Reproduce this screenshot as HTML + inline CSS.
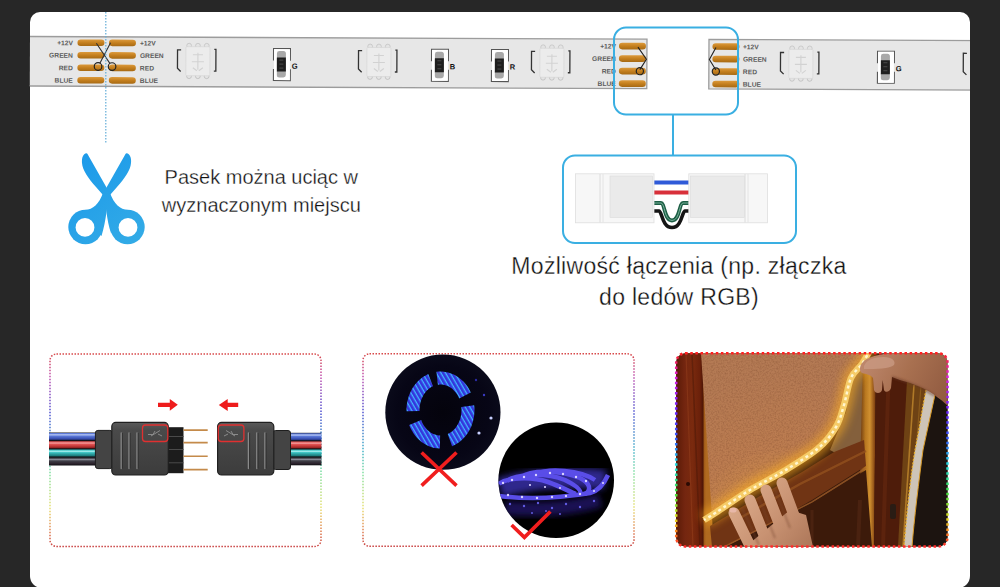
<!DOCTYPE html>
<html><head><meta charset="utf-8">
<style>
html,body{margin:0;padding:0;}
body{width:1000px;height:587px;overflow:hidden;background:#272727;position:relative;font-family:"Liberation Sans",sans-serif;}
#card{position:absolute;left:30px;top:12px;width:940px;height:576px;background:#fff;border-radius:10px 10px 12px 12px;}
svg{position:absolute;left:0;top:0;}
.t{position:absolute;color:#222;-webkit-text-stroke:0.3px #fff;font-family:"Liberation Sans",sans-serif;white-space:nowrap;}
</style></head>
<body>
<div id="card"></div>
<svg width="1000" height="587" viewBox="0 0 1000 587">
<defs>
  <linearGradient id="pad" x1="0" y1="0" x2="0" y2="1">
    <stop offset="0" stop-color="#dc9a3c"/>
    <stop offset="0.5" stop-color="#c47f1e"/>
    <stop offset="1" stop-color="#a76a14"/>
  </linearGradient>
  <g id="pads4">
    <rect x="0" y="-3.3" width="27" height="6.6" rx="3.3" fill="url(#pad)"/>
    <rect x="0" y="9.2" width="27" height="6.6" rx="3.3" fill="url(#pad)"/>
    <rect x="0" y="21.7" width="27" height="6.6" rx="3.3" fill="url(#pad)"/>
    <rect x="0" y="34.2" width="27" height="6.6" rx="3.3" fill="url(#pad)"/>
  </g>
  <g id="labR" font-family="Liberation Sans" font-weight="bold" font-size="6.7" fill="#5c5c5c" text-anchor="end">
    <text x="0" y="2.5">+12V</text><text x="0" y="15">GREEN</text><text x="0" y="27.5">RED</text><text x="0" y="40">BLUE</text>
  </g>
  <g id="labL" font-family="Liberation Sans" font-weight="bold" font-size="6.7" fill="#5c5c5c" text-anchor="start">
    <text x="0" y="2.5">+12V</text><text x="0" y="15">GREEN</text><text x="0" y="27.5">RED</text><text x="0" y="40">BLUE</text>
  </g>
  <g id="led">
    <path d="M181.2 49.2 H177.6 V67.6 L180.8 70.8" fill="none" stroke="#333" stroke-width="1.3"/>
    <path d="M214.4 48.6 H216 V70.4 H214" fill="none" stroke="#333" stroke-width="1.3"/>
    <circle cx="189.2" cy="45" r="2.4" fill="#e4e4e4" stroke="#b8b8b8" stroke-width="0.6"/><circle cx="198" cy="45" r="2.4" fill="#e4e4e4" stroke="#b8b8b8" stroke-width="0.6"/><circle cx="206.8" cy="45" r="2.4" fill="#e4e4e4" stroke="#b8b8b8" stroke-width="0.6"/>
    <circle cx="189.2" cy="75.5" r="2.4" fill="#e4e4e4" stroke="#b0b0b0" stroke-width="0.6"/><circle cx="198" cy="75.5" r="2.4" fill="#e4e4e4" stroke="#b0b0b0" stroke-width="0.6"/><circle cx="206.8" cy="75.5" r="2.4" fill="#e4e4e4" stroke="#b0b0b0" stroke-width="0.6"/>
    <rect x="186" y="46" width="24" height="29" rx="1" fill="#ececec" stroke="#d4d4d4" stroke-width="0.6"/>
    <path d="M193 54 H203 M198 52 V69 M192 61 H204 M193 67 L197 70 M203 67 L199 70" stroke="#d2d2d2" stroke-width="1.1" fill="none"/>
  </g>
  <g id="res">
    <path d="M273.6 59.5 V47.5 H290.5 V59.5 M273.6 68 V79.5 H290.5 V68" fill="#fff" stroke="#555" stroke-width="1.1"/>
    <rect x="274.2" y="48" width="15.8" height="31" fill="#fff"/>
    <rect x="277" y="50" width="9" height="26.5" rx="2.5" fill="#a8a8a8"/>
    <rect x="277" y="56.5" width="9" height="14" fill="#1e1e1e"/>
    <path d="M279.5 59 H283.5 M279.5 63 H283.5 M279.5 67 H283.5" stroke="#666" stroke-width="0.6"/>
  </g>
</defs>

<!-- LED strip -->
<g transform="rotate(0.25 30 36)">
  <rect x="30" y="36.5" width="617" height="49.5" fill="#e7e7e7"/>
  <rect x="709" y="36.5" width="275" height="49.5" fill="#e7e7e7"/>
  <path d="M30 36.5 H647 V86 H30 M984 36.5 H709 V86 H984" fill="none" stroke="#9c9c9c" stroke-width="1.3"/>
  <use href="#labR" x="73" y="42.5"/>
  <use href="#pads4" x="77.5" y="42.5"/>
  <use href="#pads4" x="109" y="42.5"/>
  <use href="#labL" x="140" y="42.5"/>
  <!-- cut marks -->
  <path d="M96.4 43 L110 63 M110.6 42.3 L100 63" stroke="#333" stroke-width="1.1" fill="none"/>
  <circle cx="98.2" cy="66.2" r="3.8" fill="none" stroke="#222" stroke-width="1.2"/>
  <circle cx="112.2" cy="66.2" r="3.8" fill="none" stroke="#222" stroke-width="1.2"/>
  <use href="#led" x="0" y="0"/>
  <use href="#res" x="0" y="0"/>
  <text x="292" y="67.5" font-family="Liberation Sans" font-weight="bold" font-size="7.5" fill="#111">G</text>
  <use href="#led" x="181" y="0"/>
  <use href="#res" x="158" y="0"/>
  <text x="450" y="67.5" font-family="Liberation Sans" font-weight="bold" font-size="7.5" fill="#111">B</text>
  <use href="#res" x="218" y="0"/>
  <text x="510" y="67.5" font-family="Liberation Sans" font-weight="bold" font-size="7.5" fill="#111">R</text>
  <use href="#led" x="354" y="0"/>
  <use href="#labR" x="616" y="43.5"/>
  <use href="#pads4" x="619" y="43.5"/>
  <path d="M638 44.5 L646.5 56.5 L640 67" stroke="#222" stroke-width="1.1" fill="none"/>
  <circle cx="640" cy="68.5" r="3.6" fill="none" stroke="#222" stroke-width="1.2"/>
  <use href="#pads4" x="712.5" y="43.5"/>
  <path d="M716 44.5 L709.5 56.5 L716 67" stroke="#222" stroke-width="1.1" fill="none"/>
  <circle cx="716" cy="68.5" r="3.6" fill="none" stroke="#222" stroke-width="1.2"/>
  <use href="#labL" x="743" y="43.5"/>
  <use href="#led" x="603" y="0"/>
  <use href="#res" x="604" y="0"/>
  <text x="896" y="67.5" font-family="Liberation Sans" font-weight="bold" font-size="7.5" fill="#111">G</text>
  <path d="M967 49.2 H963.4 V67.6 L966.6 70.8" fill="none" stroke="#333" stroke-width="1.3"/>
</g>
<!-- card edge cover for strip overflow -->
<rect x="970" y="0" width="30" height="587" fill="#272727"/>

<!-- dotted cut line -->
<line x1="105.8" y1="12" x2="105.8" y2="143" stroke="#62acd8" stroke-width="1.2" stroke-dasharray="1.6 1.4"/>

<!-- blue boxes -->
<rect x="614" y="27.5" width="124" height="87" rx="12" fill="none" stroke="#3aafe2" stroke-width="2"/>
<line x1="673" y1="114.5" x2="673" y2="155" stroke="#3aafe2" stroke-width="2"/>
<rect x="563" y="155.5" width="233" height="87.5" rx="12" fill="none" stroke="#3aafe2" stroke-width="2"/>


<!-- connector photo in box 2 -->
<defs>
  <linearGradient id="clipv" x1="0" y1="0" x2="0" y2="1">
    <stop offset="0" stop-color="#f4f4f4"/><stop offset="1" stop-color="#e8e8e8"/>
  </linearGradient>
</defs>
<g>
  <!-- wires -->
  <path d="M652 182.5 H690" stroke="#2f5ad8" stroke-width="4"/>
  <path d="M652 192.5 H690" stroke="#d8303a" stroke-width="4"/>
  <path d="M652 211 H659 C662 211 662 227.5 672 227.5 C682 227.5 682 211 685 211 H690" fill="none" stroke="#151515" stroke-width="3.6"/>
  <path d="M652 203 H661 C665 203 664 220.5 672 220.5 C680 220.5 679 203 683 203 H690" fill="none" stroke="#1d5e45" stroke-width="3.8"/>
  <path d="M652 203 H661 C665 203 664 220.5 672 220.5 C680 220.5 679 203 683 203 H690" fill="none" stroke="#7fb8a0" stroke-width="0.9"/>
  <!-- left clip -->
  <rect x="575.5" y="173.8" width="78.5" height="49" fill="#f7f7f7" stroke="#dedede" stroke-width="0.8"/>
  <line x1="600" y1="174" x2="600" y2="222.5" stroke="#dcdcdc" stroke-width="1"/>
  <line x1="603" y1="174" x2="603" y2="222.5" stroke="#e4e4e4" stroke-width="1"/>
  <rect x="610" y="176" width="42.5" height="41.5" fill="#eaeaea" stroke="#dadada" stroke-width="0.6"/>
  <!-- right clip -->
  <rect x="688.8" y="173.8" width="78.7" height="49" fill="#f7f7f7" stroke="#dedede" stroke-width="0.8"/>
  <line x1="745" y1="174" x2="745" y2="222.5" stroke="#dcdcdc" stroke-width="1"/>
  <line x1="748" y1="174" x2="748" y2="222.5" stroke="#e4e4e4" stroke-width="1"/>
  <rect x="690.5" y="176" width="54" height="41.5" fill="#eaeaea" stroke="#dadada" stroke-width="0.6"/>
</g>

<!-- ===== bottom boxes ===== -->
<defs>
  <linearGradient id="rb1" x1="0" y1="0" x2="0" y2="1">
    <stop offset="0" stop-color="#d84a4a"/>
    <stop offset="0.12" stop-color="#c050b0"/>
    <stop offset="0.3" stop-color="#5050d0"/>
    <stop offset="0.5" stop-color="#40b0c8"/>
    <stop offset="0.62" stop-color="#80e0a0"/>
    <stop offset="0.8" stop-color="#e8e070"/>
    <stop offset="0.92" stop-color="#e08050"/>
    <stop offset="1" stop-color="#c84040"/>
  </linearGradient>
  <linearGradient id="rb3" x1="0" y1="0" x2="0" y2="1">
    <stop offset="0" stop-color="#ff2020"/>
    <stop offset="0.12" stop-color="#e020e0"/>
    <stop offset="0.3" stop-color="#6a20ff"/>
    <stop offset="0.45" stop-color="#3060ff"/>
    <stop offset="0.58" stop-color="#20e0e0"/>
    <stop offset="0.72" stop-color="#40e040"/>
    <stop offset="0.85" stop-color="#e0e020"/>
    <stop offset="0.93" stop-color="#ff8020"/>
    <stop offset="1" stop-color="#ff2a2a"/>
  </linearGradient>
  <linearGradient id="body" x1="0" y1="0" x2="0" y2="1">
    <stop offset="0" stop-color="#5a5a5a"/><stop offset="0.15" stop-color="#4a4a4a"/><stop offset="1" stop-color="#3c3c3c"/>
  </linearGradient>
  <linearGradient id="wires" x1="0" y1="0" x2="0" y2="1">
    <stop offset="0.000" stop-color="#15151a"/>
    <stop offset="0.030" stop-color="#5a78d8"/>
    <stop offset="0.070" stop-color="#b8c8f4"/>
    <stop offset="0.110" stop-color="#5a78d8"/>
    <stop offset="0.200" stop-color="#3348a8"/>
    <stop offset="0.245" stop-color="#101014"/>
    <stop offset="0.250" stop-color="#15151a"/>
    <stop offset="0.280" stop-color="#e05050"/>
    <stop offset="0.320" stop-color="#f4a0a0"/>
    <stop offset="0.360" stop-color="#e05050"/>
    <stop offset="0.450" stop-color="#a82828"/>
    <stop offset="0.495" stop-color="#101014"/>
    <stop offset="0.500" stop-color="#15151a"/>
    <stop offset="0.530" stop-color="#38c0c0"/>
    <stop offset="0.570" stop-color="#a8f0f0"/>
    <stop offset="0.610" stop-color="#38c0c0"/>
    <stop offset="0.700" stop-color="#1f8080"/>
    <stop offset="0.745" stop-color="#101014"/>
    <stop offset="0.750" stop-color="#15151a"/>
    <stop offset="0.780" stop-color="#404048"/>
    <stop offset="0.820" stop-color="#8a8a96"/>
    <stop offset="0.860" stop-color="#404048"/>
    <stop offset="0.950" stop-color="#2a202a"/>
    <stop offset="0.995" stop-color="#101014"/>
  </linearGradient>
</defs>
<rect x="50" y="354" width="271" height="192.5" rx="6.5" fill="none" stroke="url(#rb1)" stroke-width="1.5" stroke-dasharray="1.5 1.5"/>
<rect x="363" y="353.8" width="271" height="192.5" rx="6.5" fill="none" stroke="url(#rb1)" stroke-width="1.5" stroke-dasharray="1.5 1.5"/>

<!-- box1 connector -->
<rect x="49" y="432.5" width="47" height="33" fill="url(#wires)"/>
<rect x="290" y="432.8" width="31.5" height="32.5" fill="url(#wires)"/>
<rect x="95.4" y="430.4" width="17" height="38.2" rx="2.5" fill="#444" stroke="#1e1e1e" stroke-width="1"/>
<rect x="273" y="430.5" width="17.5" height="39" rx="2.5" fill="#444" stroke="#1e1e1e" stroke-width="1"/>
<rect x="168" y="427.2" width="15.5" height="46" fill="#1c1c1c"/>
<path d="M168 436.5 H183.5 M168 449.5 H183.5 M168 462.8 H183.5" stroke="#4a4a4a" stroke-width="1"/>
<path d="M183.5 430.1 H207.7 M183.5 442.6 H207.7 M183.5 456.3 H207.7 M183.5 469.6 H207.7" stroke="#c48a4a" stroke-width="1.6"/>
<rect x="111.8" y="422.4" width="56.5" height="52.6" rx="4" fill="url(#body)" stroke="#202020" stroke-width="1.2"/>
<rect x="217.6" y="422.4" width="56.2" height="52.6" rx="4" fill="url(#body)" stroke="#202020" stroke-width="1.2"/>
<g stroke="#8a8a8a" stroke-width="1.3" stroke-linecap="round">
  <path d="M121.2 433 V468.5 M129 433 V468.5 M137 433 V468.5"/>
  <path d="M248.4 433 V468.5 M256.8 433 V468.5 M264.9 433 V468.5"/>
</g>
<g stroke="#2a2a2a" stroke-width="0.7">
  <path d="M122.4 433 V468.5 M130.2 433 V468.5 M138.2 433 V468.5"/>
  <path d="M249.6 433 V468.5 M258 433 V468.5 M266.1 433 V468.5"/>
</g>
<rect x="142.5" y="425" width="25.3" height="16.5" rx="3" fill="none" stroke="#e03030" stroke-width="1.3"/>
<rect x="218.3" y="425" width="25.6" height="16.5" rx="3" fill="none" stroke="#e03030" stroke-width="1.3"/>
<path d="M148 434.5 H153 L155 431 M151 436 L160 430.5 M158 434 L162 436" stroke="#8a8a8a" stroke-width="1" fill="none"/>
<path d="M238 434.5 H233 L231 431 M235 436 L226 430.5 M228 434 L224 436" stroke="#8a8a8a" stroke-width="1" fill="none"/>
<path d="M158 402.7 H169.8 V398.9 L177.8 404.8 L169.8 410.7 V406.9 H158 Z" fill="#ee1c1c"/>
<path d="M238.2 402.7 H227.7 V398.9 L218.8 404.9 L227.7 410.9 V407.1 H238.2 Z" fill="#ee1c1c"/>

<!-- box2 circles -->
<defs>
  <pattern id="reelpat" patternUnits="userSpaceOnUse" width="4" height="4" patternTransform="rotate(60)">
    <rect width="4" height="4" fill="#3434dc"/>
    <rect width="4" height="1.3" fill="#40b8ff"/>
  </pattern>
  <radialGradient id="c1g" cx="0.5" cy="0.5" r="0.5">
    <stop offset="0" stop-color="#04030c"/><stop offset="0.8" stop-color="#070616"/><stop offset="1" stop-color="#0a0a1a"/>
  </radialGradient>
  <filter id="glow" x="-20%" y="-20%" width="140%" height="140%"><feGaussianBlur stdDeviation="0.6"/></filter>
</defs>
<circle cx="442.9" cy="412.2" r="57.6" fill="url(#c1g)"/>
<g filter="url(#glow)">
<path d="M436.4 371.8 L439.3 371.5 L442.3 371.6 L445.2 371.9 L448.1 372.5 L451.0 373.4 L453.8 374.6 L456.5 376.0 L459.0 377.7 L461.4 379.7 L463.7 381.8 L465.8 384.2 L467.7 386.8 L469.3 389.6 L470.8 392.5 L459.2 398.4 L458.3 396.5 L457.3 394.7 L456.1 392.9 L454.8 391.4 L453.4 389.9 L451.9 388.6 L450.4 387.5 L448.7 386.5 L447.0 385.7 L445.2 385.2 L443.4 384.7 L441.6 384.5 L439.8 384.5 L437.9 384.7Z" fill="url(#reelpat)"/>
<path d="M474.2 405.3 L474.5 409.0 L474.4 412.7 L474.0 416.4 L473.3 420.0 L472.3 423.5 L471.1 426.9 L469.5 430.1 L467.7 433.2 L465.6 436.0 L463.3 438.6 L460.7 440.9 L458.0 443.0 L455.1 444.7 L452.1 446.2 L447.7 434.0 L449.5 433.0 L451.3 431.9 L453.0 430.5 L454.6 429.0 L456.0 427.2 L457.3 425.3 L458.4 423.3 L459.4 421.2 L460.2 418.9 L460.8 416.6 L461.2 414.2 L461.4 411.8 L461.5 409.3 L461.3 406.9Z" fill="url(#reelpat)"/>
<path d="M439.9 448.5 L437.1 448.3 L434.3 447.9 L431.6 447.2 L429.0 446.2 L426.4 445.0 L423.9 443.6 L421.5 441.9 L419.2 440.0 L417.1 438.0 L415.2 435.7 L413.4 433.2 L411.8 430.6 L410.4 427.9 L409.2 425.0 L421.2 420.0 L421.9 421.9 L422.8 423.7 L423.8 425.4 L424.9 427.0 L426.1 428.5 L427.4 429.9 L428.8 431.1 L430.2 432.2 L431.8 433.2 L433.4 434.0 L435.0 434.6 L436.7 435.1 L438.4 435.4 L440.1 435.5Z" fill="url(#reelpat)"/>
<path d="M406.5 411.3 L406.5 407.9 L406.8 404.5 L407.4 401.2 L408.2 397.9 L409.3 394.7 L410.6 391.7 L412.1 388.8 L413.9 386.0 L415.9 383.4 L418.1 381.1 L420.4 378.9 L422.9 377.0 L425.6 375.4 L428.3 374.1 L433.0 386.2 L431.3 387.1 L429.6 388.2 L428.1 389.4 L426.6 390.8 L425.3 392.4 L424.1 394.1 L423.0 395.9 L422.0 397.9 L421.2 399.9 L420.6 402.0 L420.1 404.2 L419.7 406.4 L419.5 408.6 L419.5 410.9Z" fill="url(#reelpat)"/>
</g>
<circle cx="491" cy="418" r="1.6" fill="#c8d0ff"/>
<circle cx="479" cy="433" r="1.6" fill="#c8d0ff"/>
<circle cx="484" cy="395" r="1.2" fill="#3a3ac0"/>
<circle cx="476" cy="380" r="1.2" fill="#2a2aa0"/>
<circle cx="556.2" cy="480.3" r="57.8" fill="#000"/>
<defs><filter id="glow2" x="-30%" y="-100%" width="160%" height="300%"><feGaussianBlur stdDeviation="3"/></filter><clipPath id="c2clip"><circle cx="556.2" cy="480.3" r="57.8"/></clipPath></defs>
<g clip-path="url(#c2clip)">
<path d="M500 488 C530 478 580 476 605 480" stroke="#3a30b0" stroke-width="20" fill="none" filter="url(#glow2)" opacity="0.8"/>
<path d="M505 508 C530 510 570 510 600 500" stroke="#20186a" stroke-width="14" fill="none" filter="url(#glow2)" opacity="0.8"/>
<g filter="url(#glow)" fill="none" stroke="#5a4ee8" stroke-width="4.5">
  <path d="M499 484 C505 478 530 476 548 482 C562 487 570 492 576 494"/>
  <path d="M507 481 C515 474 545 472 565 480 C575 485 582 490 580 494"/>
  <path d="M522 477 C530 470 560 470 580 478 C590 483 592 490 585 494"/>
  <path d="M537 474 C548 468 580 470 595 480"/>
  <path d="M499 496 C530 500 560 498 590 493 C598 491 604 484 608 475"/>
</g>
<g fill="#dcd4ff">
  <circle cx="503" cy="483" r="1.2"/><circle cx="512" cy="480" r="1.2"/><circle cx="524" cy="477" r="1.2"/><circle cx="536" cy="475" r="1.2"/>
  <circle cx="550" cy="473" r="1.2"/><circle cx="563" cy="474" r="1.2"/><circle cx="576" cy="477" r="1.2"/><circle cx="586" cy="481" r="1.2"/>
  <circle cx="508" cy="495" r="1.2"/><circle cx="522" cy="497" r="1.2"/><circle cx="537" cy="498" r="1.2"/><circle cx="552" cy="497" r="1.2"/>
  <circle cx="566" cy="496" r="1.2"/><circle cx="580" cy="494" r="1.2"/><circle cx="594" cy="491" r="1.1"/><circle cx="603" cy="483" r="1.1"/>
  <circle cx="530" cy="485" r="1.1"/><circle cx="545" cy="487" r="1.1"/><circle cx="560" cy="488" r="1.1"/>
</g>
<g fill="#6a64f0" opacity="0.9">
  <circle cx="510" cy="504" r="1.2"/><circle cx="524" cy="506" r="1.2"/><circle cx="538" cy="503" r="1.2"/><circle cx="552" cy="508" r="1.2"/>
  <circle cx="566" cy="504" r="1.2"/><circle cx="580" cy="507" r="1.2"/><circle cx="594" cy="501" r="1.2"/><circle cx="532" cy="513" r="1"/><circle cx="560" cy="514" r="1"/><circle cx="546" cy="511" r="1"/>
</g>
</g>
<path d="M421.6 452.5 L456.5 485.6 M456.5 452.5 L421.6 485.6" stroke="#f01e1e" stroke-width="3.6"/>
<path d="M511.6 525 L524.4 537.4 L550.4 511.5" fill="none" stroke="#f01e1e" stroke-width="3.6"/>

<!-- box3 photo -->
<defs>
  <clipPath id="ph"><rect x="676.2" y="353.3" width="271.3" height="193.2" rx="9"/></clipPath>
  <filter id="cork" x="0" y="0" width="100%" height="100%">
    <feTurbulence type="fractalNoise" baseFrequency="0.6" numOctaves="2" seed="5" result="n"/>
    <feColorMatrix in="n" type="matrix" values="0 0 0 0 0  0 0 0 0 0  0 0 0 0 0  0 0 0 -1.4 0.85" result="a"/>
    <feComposite in="SourceGraphic" in2="a" operator="in"/>
  </filter>
  <linearGradient id="frame" gradientUnits="userSpaceOnUse" x1="676" y1="0" x2="706" y2="0">
    <stop offset="0" stop-color="#5a1a06"/><stop offset="0.3" stop-color="#742610"/><stop offset="0.55" stop-color="#7a2a0e"/>
    <stop offset="0.8" stop-color="#6a200a"/><stop offset="0.9" stop-color="#4e1606"/><stop offset="0.94" stop-color="#a05a18"/><stop offset="1" stop-color="#b06a20"/>
  </linearGradient>
  <radialGradient id="corkglow" cx="790" cy="560" r="190" gradientUnits="userSpaceOnUse">
    <stop offset="0" stop-color="#f8b830"/><stop offset="0.3" stop-color="#d89448"/><stop offset="0.6" stop-color="#bc7c50"/><stop offset="1" stop-color="#b47a54"/>
  </radialGradient>
  <linearGradient id="post" gradientUnits="userSpaceOnUse" x1="860" y1="0" x2="878" y2="0">
    <stop offset="0" stop-color="#6a3810"/><stop offset="0.3" stop-color="#b87820"/><stop offset="0.55" stop-color="#d09030"/><stop offset="0.8" stop-color="#8a4a14"/><stop offset="1" stop-color="#4a1c08"/>
  </linearGradient>
  <linearGradient id="skin" gradientUnits="userSpaceOnUse" x1="860" y1="355" x2="948" y2="400">
    <stop offset="0" stop-color="#c08a70"/><stop offset="0.5" stop-color="#a87050"/><stop offset="1" stop-color="#905a40"/>
  </linearGradient>
  <linearGradient id="skin2" gradientUnits="userSpaceOnUse" x1="730" y1="485" x2="805" y2="547">
    <stop offset="0" stop-color="#e0b090"/><stop offset="0.6" stop-color="#c89272"/><stop offset="1" stop-color="#b07a5c"/>
  </linearGradient>
  <filter id="bl1" x="-20%" y="-20%" width="140%" height="140%"><feGaussianBlur stdDeviation="0.8"/></filter>
  <filter id="bl3" x="-50%" y="-50%" width="200%" height="200%"><feGaussianBlur stdDeviation="4"/></filter>
</defs>
<g clip-path="url(#ph)">
  <rect x="676" y="353" width="272" height="194" fill="#3a1a0a"/>
  <!-- cork right of strip -->
  <path d="M866 353 L866 470 L830 450 L846 412 L852 380 Z" fill="#84603c"/>
  <!-- cork main -->
  <path d="M698 353 H870 C868.7 352.3 865.2 359.3 862 364 C858.8 368.7 854.0 371.2 851 378 C848.0 384.8 846.5 396.8 844 405 C841.5 413.2 840.3 419.8 836 427 C831.7 434.2 826.7 441.2 818 448.5 C809.3 455.8 795.3 464.1 784 471 C772.7 477.9 761.3 483.1 750 490 C738.7 496.9 723.7 507.5 716 512.5 C708.3 517.5 706.0 518.8 704 520 L712 547 L698 353 Z" fill="url(#corkglow)"/>
  <path d="M698 353 H870 C868.7 352.3 865.2 359.3 862 364 C858.8 368.7 854.0 371.2 851 378 C848.0 384.8 846.5 396.8 844 405 C841.5 413.2 840.3 419.8 836 427 C831.7 434.2 826.7 441.2 818 448.5 C809.3 455.8 795.3 464.1 784 471 C772.7 477.9 761.3 483.1 750 490 C738.7 496.9 723.7 507.5 716 512.5 C708.3 517.5 706.0 518.8 704 520 L712 547 L698 353 Z" fill="#6a3a20" filter="url(#cork)" opacity="0.4"/>
  <!-- frame left -->
  <path d="M676 353 H701 L714 547 H676 Z" fill="url(#frame)"/>
  <path d="M686 353 L693 547" stroke="#9a4420" stroke-width="1.2" opacity="0.45"/>
  <path d="M692 353 L700 547" stroke="#4a1808" stroke-width="1.5" opacity="0.5"/>
  <circle cx="688" cy="484" r="2" fill="#2a0a04"/>
  <!-- post -->
  <path d="M863 360 H876 L874 547 H858 Z" fill="url(#post)"/>
  <!-- dark red wood -->
  <path d="M876 365 H912 L900 547 H874 Z" fill="#4e1c0a"/>
  <path d="M889 365 L883 547" stroke="#6a2a10" stroke-width="4" opacity="0.5"/>
  <!-- golden wood -->
  <path d="M907 380 H928 L913 547 H898 Z" fill="#6e4214"/>
  <path d="M914 385 L903 547" stroke="#b07a28" stroke-width="1.6"/>
  <path d="M921 385 L909 547" stroke="#8a5a1c" stroke-width="1.2"/>
  <!-- dark right -->
  <path d="M934 380 H948 V547 H910 L922 450 Z" fill="#1c1410"/>
  <!-- white vertical strip -->
  <path d="M926 390 H936 C932 410 927 430 923 450 C919 480 914 520 912 547 H904 C906 520 910 480 915 450 C919 430 922 410 926 390 Z" fill="#cdc4b8"/>
  <path d="M926 390 C922 410 919 430 915 450 C910 480 906 520 904 547" stroke="#e8b030" stroke-width="1.3" fill="none" stroke-dasharray="2 1.5"/>
  <path d="M936 390 C932 410 927 430 923 450 C919 480 914 520 912 547" stroke="#d89a28" stroke-width="1" fill="none"/>
  <!-- shelf -->
  <path d="M710 526 L760 496 L802 472 L834 452 L864 440 L866 466 L812 500 L760 530 L724 547 H712 Z" fill="#703414"/>
  <path d="M740 518 L800 484 L866 451" stroke="#92501e" stroke-width="2.5" fill="none" opacity="0.8"/>
  <path d="M724 547 L812 502 L866 468" stroke="#a8642c" stroke-width="1.6" fill="none" opacity="0.7"/>
  <!-- lower dark panel -->
  <path d="M726 547 L812 503 L866 470 L872 547 Z" fill="#3c1a0a"/>
  <path d="M812 510 L812 547" stroke="#4a2210" stroke-width="3"/>
  <path d="M860 500 L858 547" stroke="#4a2210" stroke-width="4"/>
  <rect x="890" y="504" width="6" height="15" rx="2" fill="#2a1c14"/>
  <!-- glowing LED strip -->
  <path d="M870 350 C868.7 352.3 865.2 359.3 862 364 C858.8 368.7 854.0 371.2 851 378 C848.0 384.8 846.5 396.8 844 405 C841.5 413.2 840.3 419.8 836 427 C831.7 434.2 826.7 441.2 818 448.5 C809.3 455.8 795.3 464.1 784 471 C772.7 477.9 761.3 483.1 750 490 C738.7 496.9 723.7 507.5 716 512.5 C708.3 517.5 706.0 518.8 704 520" fill="none" stroke="#ffb020" stroke-width="16" opacity="0.55" filter="url(#bl3)"/>
  <path d="M870 350 C868.7 352.3 865.2 359.3 862 364 C858.8 368.7 854.0 371.2 851 378 C848.0 384.8 846.5 396.8 844 405 C841.5 413.2 840.3 419.8 836 427 C831.7 434.2 826.7 441.2 818 448.5 C809.3 455.8 795.3 464.1 784 471 C772.7 477.9 761.3 483.1 750 490 C738.7 496.9 723.7 507.5 716 512.5 C708.3 517.5 706.0 518.8 704 520" fill="none" stroke="#f6cc68" stroke-width="6.5"/>
  <path d="M870 350 C868.7 352.3 865.2 359.3 862 364 C858.8 368.7 854.0 371.2 851 378 C848.0 384.8 846.5 396.8 844 405 C841.5 413.2 840.3 419.8 836 427 C831.7 434.2 826.7 441.2 818 448.5 C809.3 455.8 795.3 464.1 784 471 C772.7 477.9 761.3 483.1 750 490 C738.7 496.9 723.7 507.5 716 512.5 C708.3 517.5 706.0 518.8 704 520" fill="none" stroke="#fff6d0" stroke-width="2.5" stroke-dasharray="3 3"/>
  <!-- upper hand -->
  <path d="M860 369 C860 364 864 360 869 358 C876 355 884 354 890 353 H948 V406 C944 402 936 396 930 392 C922 387 908 382 900 380 L892 377 L891 388 C890 392 885 393 884 390 L882.7 380 L882 390 C881 394 875 394 874 390 L873 378 C871 375 866 374 862 373 C860 372 860 370 860 369 Z" fill="url(#skin)"/>
  <path d="M864 366 C866 360 874 357 884 357 C892 357 896 361 894 365 C890 369 876 369 864 369 Z" fill="#c89880" opacity="0.85"/>
  <path d="M892 377 C905 381 920 386 935 396" stroke="#6a3a28" stroke-width="2" fill="none" opacity="0.6" filter="url(#bl1)"/>
  <!-- lower hand -->
  <g stroke="url(#skin2)" stroke-width="11" stroke-linecap="round">
    <line x1="734" y1="513" x2="752" y2="550"/>
    <line x1="750" y1="500" x2="768" y2="545"/>
    <line x1="766" y1="490" x2="784" y2="536"/>
    <line x1="782" y1="483" x2="798" y2="526"/>
  </g>
  <path d="M745 547 L790 510 L806 515 L813 547 Z" fill="url(#skin2)"/>
  <g stroke="#7a4a34" stroke-width="1.2" opacity="0.7" filter="url(#bl1)">
    <line x1="742" y1="508" x2="759" y2="545"/>
    <line x1="758" y1="496" x2="775" y2="538"/>
    <line x1="774" y1="487" x2="790" y2="528"/>
  </g>
  <ellipse cx="733" cy="510" rx="3.6" ry="2.6" fill="#e8b8a8"/>
</g>
<rect x="676.2" y="353.3" width="271.3" height="193.2" rx="9" fill="none" stroke="url(#rb3)" stroke-width="2.5" stroke-dasharray="2.5 2.6"/>
<!-- scissors -->
<defs><linearGradient id="scg" gradientUnits="userSpaceOnUse" x1="70" y1="150" x2="145" y2="245"><stop offset="0" stop-color="#1a98ea"/><stop offset="1" stop-color="#34ace6"/></linearGradient></defs>
<g fill="url(#scg)">
  <path d="M86.5 153.2 C83 153.5 81.5 158 82 163 C82.5 170 88 178 96 187 L106.5 199 L108.5 191 L87.5 154 C87.2 153.4 86.9 153.2 86.5 153.2 Z"/>
  <path d="M 126.5 153.2 C 130.0 153.5 131.5 158.0 131.0 163.0 C 130.5 170.0 125.0 178.0 117.0 187.0 L 106.5 199.0 L 104.5 191.0 L 125.5 154.0 C 125.8 153.4 126.1 153.2 126.5 153.2 Z"/>
  <path d="M104 194 C106 205 106.5 220 111 233 L125 225 L128 210 C120 209.5 114 204 110 193 Z"/>
  <path d="M 109.0 194.0 C 107.0 205.0 106.5 220.0 101.5 236.0 L 88.0 225.0 L 85.0 210.0 C 93.0 209.5 99.0 204.0 103.0 193.0 Z"/>
  <circle cx="85.5" cy="227" r="17.2"/>
  <circle cx="127.5" cy="227" r="17.2"/>
</g>
<circle cx="85" cy="227.4" r="9.4" fill="#fff"/>
<circle cx="128" cy="227.4" r="9.4" fill="#fff"/>
<g></g>
</svg>

<div class="t" style="left:161.3px;top:162.9px;width:200px;text-align:center;font-size:20px;line-height:28px;color:#111;">Pasek można uciąc w<br>wyznaczonym miejscu</div>
<div class="t" style="left:479px;top:250.8px;width:400px;text-align:center;font-size:23px;line-height:31px;letter-spacing:0.3px;color:#111;">Możliwość łączenia (np. złączka<br>do ledów RGB)</div>
</body></html>
